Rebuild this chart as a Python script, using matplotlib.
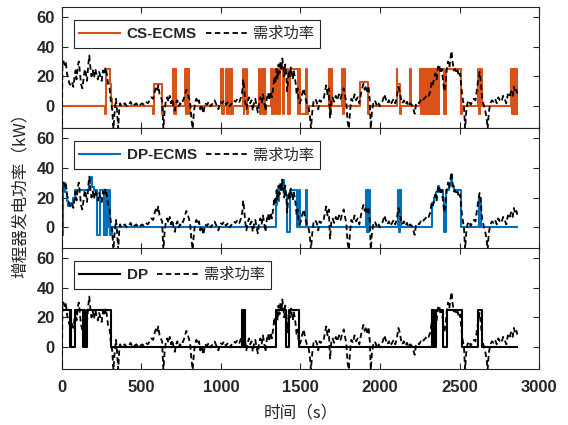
import matplotlib
matplotlib.use('Agg')
import matplotlib.pyplot as plt

plt.rcParams['font.family'] = ['Liberation Sans', 'Noto Sans CJK SC']
plt.rcParams['axes.unicode_minus'] = False

# demand power (需求功率), time in s, power in kW
dem_t = [0, 3, 10, 18, 25, 32, 40, 48, 56, 64, 72, 80, 86, 92, 100, 106, 112, 120, 128, 136,
         144, 150, 158, 166, 172, 178, 186, 194, 202, 210, 218, 226, 234, 242, 250, 258, 266, 274, 282, 290,
         300, 308, 316, 324, 332, 340, 346, 354, 360, 366, 374,
         384, 396, 408, 420, 432, 444, 456, 468, 480, 492, 504, 516, 528, 540, 552, 562, 574, 582, 590,
         598, 606, 614, 622, 630, 638, 646, 654, 662, 670, 678, 686, 694, 702, 710, 718, 726, 734, 742, 750,
         758, 766, 774, 782, 790, 798, 806, 814, 822, 830, 838, 846, 854, 862, 870,
         878, 890, 900, 912, 924, 936, 948, 960, 972, 984, 996, 1008, 1020, 1032, 1044, 1056, 1068, 1080, 1092, 1104,
         1116, 1126, 1134, 1140, 1146, 1152, 1160, 1168, 1176, 1184, 1192, 1200, 1208, 1216, 1224, 1232, 1240, 1248, 1256, 1264,
         1272, 1280, 1288, 1296, 1304, 1312, 1320, 1328, 1336, 1342, 1350, 1356, 1362, 1368, 1374, 1380, 1386, 1392, 1398, 1404,
         1410, 1416, 1422, 1428, 1434, 1440, 1446, 1452, 1458, 1464, 1470, 1476, 1482, 1488, 1494, 1502, 1510, 1520, 1530, 1540,
         1550, 1558, 1566, 1574, 1582, 1592, 1602, 1612, 1620, 1628, 1636, 1646, 1654, 1662, 1670, 1678, 1686, 1694, 1702, 1712,
         1722, 1732, 1742, 1752, 1762, 1772, 1780, 1788, 1796, 1804, 1812, 1820, 1830, 1840, 1850, 1860, 1870, 1880, 1888, 1896,
         1904, 1912, 1920, 1928, 1936, 1942, 1950, 1958, 1968, 1978, 1988, 1998, 2008, 2018, 2028, 2036, 2046, 2056, 2066, 2076,
         2086, 2096, 2106, 2116, 2124, 2132, 2140, 2150, 2160, 2170, 2180, 2190, 2200, 2210, 2218, 2226, 2236, 2246, 2256, 2266,
         2276, 2286, 2296, 2306, 2316, 2324, 2332, 2340, 2348, 2356, 2364, 2372, 2380, 2388, 2396, 2404, 2412, 2420, 2428, 2436,
         2444, 2450, 2456, 2464, 2472, 2480, 2488, 2496, 2504, 2512, 2520, 2528, 2535, 2542, 2550, 2560, 2570, 2580, 2590, 2600,
         2610, 2618, 2626, 2634, 2642, 2652, 2662, 2670, 2677, 2684, 2694, 2704, 2714, 2724, 2734, 2744, 2754, 2764, 2774, 2784,
         2794, 2804, 2814, 2824, 2834, 2842, 2850, 2858, 2864]
dem_p = [-12, 28, 30, 27, 29, 22, 18, 15, 14, 16, 13, 20, 24, 18, 27, 30, 24, 15, 12, 18,
         25, 22, 17, 28, 34, 27, 20, 24, 19, 25, 21, 18, 23, 20, 17, 24, 21, 26, 22, 15,
         12, 3, -2, -15, -3, 5, -2, -15, -3, 2, 0,
         1, 2, 0, 1, 3, 0, 1, 2, 0, 1, 2, 1, 3, 2, 4, 6, 5, 9, 12,
         10, 14, 8, 6, 4, -15, -3, 4, 6, 3, 7, 2, 5, 0, -3, 2, 4, 0, 2, 1,
         3, 5, 8, 11, 9, 6, 3, -8, -15, -4, 3, 5, 2, 4, -2,
         1, -5, 2, 1, 3, 0, 2, 4, 1, -2, 3, 2, 4, 1, 3, 0, 2, 4, 3, 5,
         3, 6, 10, 18, 12, 4, -2, 3, 6, 2, 4, -3, 2, 5, 0, -4, 3, 6, 2, 8,
         3, -3, 5, 9, 4, 10, 6, 12, 20, 15, 25, 18, 28, 22, 30, 24, 32, 26, 20, 28,
         22, 10, 18, 24, 20, 26, 22, 18, 24, 20, 15, 8, 12, 5, 2, 4, 8, 12, 6, 2,
         0, -5, -15, -4, 3, 5, 3, -2, 4, 3, 5, 5, 10, 14, 8, 12, -8, 4, 6, 3,
         7, 4, 8, 5, 9, 12, 7, 3, -10, -15, -3, 5, 3, 8, 4, 6, 2, 8, 12, 15,
         11, 14, 10, 13, 4, -15, -3, 2, 4, 1, 3, 0, 2, 4, 8, 5, 2, 4, 1, 3,
         5, 2, 6, 13, 10, 5, 2, 4, 1, 3, 0, 2, 1, -2, -5, 1, 3, 2, 4, 3,
         5, 6, 8, 7, 10, 16, 14, 19, 22, 18, 26, 28, 22, 25, 18, 10, 14, 25, 30, 26,
         33, 37, 30, 24, 25, 22, 24, 20, 22, 12, 5, 0, -15, -4, 2, 4, 1, 3, 5, 4,
         12, 18, 23, 16, 6, 1, -3, -8, -15, -4, 2, 4, 3, 5, 2, 6, 4, 3, 7, 5,
         2, 8, 6, 10, 7, 13, 9, 11, 8]

# CS-ECMS generator power, value holds from each switch time to the next
cs_t = [0, 272, 276, 302, 308, 316, 574, 578, 628, 634, 696, 702, 708, 716, 720, 774, 780, 786, 800, 806,
        998, 1004, 1010, 1016, 1022, 1034, 1040, 1046, 1052, 1058, 1064, 1072, 1078,
        1136, 1142, 1148, 1156, 1162, 1168,
        1238, 1244, 1250, 1258, 1264, 1270, 1278, 1284,
        1312, 1318, 1324, 1330, 1336, 1340, 1346, 1352, 1366, 1372, 1390, 1396, 1420, 1432, 1484, 1492, 1500, 1534, 1540, 1546,
        1680, 1686, 1692, 1700, 1758, 1766, 1772, 1780, 1872, 1926, 1932,
        2104, 2110, 2124, 2130, 2188, 2196,
        2252, 2256, 2262, 2266, 2272, 2276, 2282, 2286, 2292, 2296, 2302, 2306, 2312, 2316, 2322, 2326, 2332, 2336,
        2342, 2346, 2352, 2356, 2362, 2366, 2372,
        2404, 2416, 2510, 2516, 2618, 2624, 2630, 2640,
        2826, 2830, 2834, 2838, 2842, 2846, 2850, 2854, 2858, 2864]
cs_p = [0, -5, 25, 15, 5, 0, -5, 15, -5, 0, 25, -5, 25, -5, 0, 25, -5, 25, -5, 0,
        25, -5, 25, -5, 0, 25, -5, 0, 25, -5, 25, -5, 0,
        25, -5, 0, 25, -5, 0,
        25, -5, 0, 25, -5, 25, -5, 0,
        25, -5, 25, -5, 0, 25, -5, 25, -5, 25, -5, 25, -5, 25, -5, 25, -5, 25, -5, 0,
        25, -5, 25, 0, 25, -5, 25, 0, 16, -5, 0,
        25, 15, -5, 0, 25, 0,
        25, -5, 25, -5, 25, -5, 25, -5, 25, -5, 25, -5, 25, -5, 25, -5, 25, -5,
        25, -5, 25, -5, 25, -5, 25,
        -5, 25, -5, 0, 25, -5, 25, 0,
        25, -5, 25, -5, 25, -5, 25, -5, 25, -5]

# DP-ECMS generator power
dpe_t = [0, 4, 22, 30, 40, 55, 70, 82, 172, 180, 190, 200, 218, 240, 262, 266, 272, 276, 282, 286, 292, 296, 302, 312,
         1346, 1352, 1360, 1368, 1376, 1386, 1394, 1404, 1418, 1432, 1480, 1492, 1497, 1535, 1540,
         1912, 1916, 1920, 1926, 1930, 1936, 2116, 2120, 2124, 2129,
         2325, 2340, 2350, 2362, 2372, 2394, 2400, 2418, 2432, 2445, 2455, 2465, 2510,
         2620, 2625, 2630, 2638, 2864]
dpe_p = [-5, 30, 24, 18, 14, 16, 20, 25, 30, 34, 27, 25, -5, 25, -5, 25, -5, 25, -5, 25, 0, 25, -5, 0,
         15, 25, 18, 28, 25, 32, 25, 22, -3, 25, 0, 25, 0, 25, 0,
         25, -3, 25, -3, 25, 0, 25, -3, 25, 0,
         16, 20, 24, 28, 25, 20, -3, 25, 30, 35, 28, 25, 0,
         20, 0, 20, 0, 0]

# DP generator power
dp_t = [0, 50, 55, 60, 80, 134, 140, 146, 155, 308, 1134, 1138, 1142, 1146, 1150, 1154,
        1345, 1408, 1428, 1488, 2325, 2329, 2333, 2340, 2352, 2394, 2424, 2514, 2619, 2640, 2864]
dp_p = [25, 0, 25, 0, 25, 0, 25, 0, 25, 0, 25, 0, 25, 0, 25, 0,
        25, 0, 25, 0, 25, 0, 25, 0, 25, 0, 25, 0, 25, 0, 0]

panels = [
    ('CS-ECMS', cs_t, cs_p, '#D95319'),
    ('DP-ECMS', dpe_t, dpe_p, '#0072BD'),
    ('DP', dp_t, dp_p, 'black'),
]

fig = plt.figure(figsize=(5.68, 4.25), dpi=100)
bottoms = [0.699, 0.414, 0.1318]
axcol = '#262626'

for i, (name, t, p, col) in enumerate(panels):
    ax = fig.add_axes([0.109, bottoms[i], 0.840, 0.2847])
    ax.step(t, p, where='post', color=col, lw=1.5, label=name, zorder=2)
    ax.plot(dem_t, dem_p, color='black', ls='--', dashes=(3.0, 1.9), lw=1.3, label='需求功率', zorder=3)
    ax.set_xlim(0, 3000)
    ax.set_ylim(-14.5, 66.5)
    ax.set_xticks(range(0, 3001, 500))
    ax.set_yticks([0, 20, 40, 60])
    ax.tick_params(direction='in', top=True, right=True, length=4, width=0.8,
                   labelsize=12, colors=axcol, pad=5)
    ax.tick_params(axis='x', pad=8)
    for s in ax.spines.values():
        s.set_color(axcol)
        s.set_linewidth(0.8)
    for lbl in ax.get_xticklabels() + ax.get_yticklabels():
        lbl.set_fontweight('bold')
    if i < 2:
        ax.tick_params(labelbottom=False)
    leg = ax.legend(ncol=2, loc='upper left', bbox_to_anchor=(0.025, 0.893), borderaxespad=0,
                    fontsize=11, handlelength=2.7, handletextpad=0.4, columnspacing=0.6,
                    borderpad=0.35, fancybox=False, framealpha=1, edgecolor=axcol)
    leg.get_frame().set_linewidth(0.8)
    txts = leg.get_texts()
    txts[0].set_fontweight('bold')
    txts[0].set_color(axcol)
    txts[1].set_family(['Noto Sans CJK SC'])
    txts[1].set_color(axcol)

fig.text(0.035, 0.549, '增程器发电功率（kW）', rotation=90, fontsize=12, ha='center', va='center',
         color=axcol, family=['Noto Sans CJK SC'])
fig.text(0.529, 0.028, '时间（s）', fontsize=12, ha='center', va='center',
         color=axcol, family=['Noto Sans CJK SC'])

fig.savefig('out.png', dpi=100)
